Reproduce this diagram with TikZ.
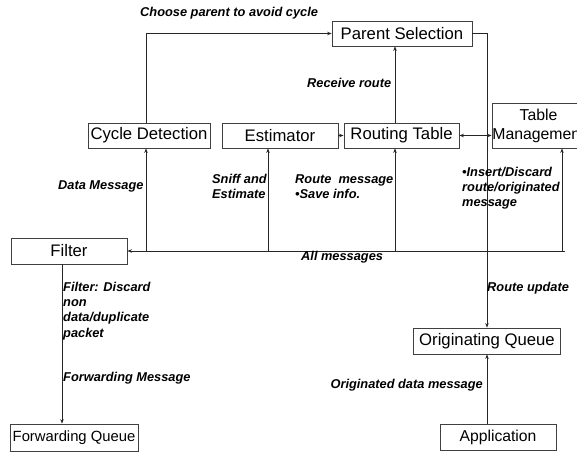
\documentclass[tikz,border=0pt]{standalone}
\usepackage{fontspec}
\setmainfont{Liberation Sans}
\usetikzlibrary{arrows.meta}

\newcommand{\boxfont}{\fontsize{16.7}{19}\selectfont}
\newcommand{\lblfont}{\fontsize{12.8}{15.2}\selectfont\bfseries\itshape}

\begin{document}
\begin{tikzpicture}[>={Stealth[length=4.5pt,width=3.5pt]},x=1pt,y=-1pt,
  blk/.style={draw=black!75,line width=0.8pt,minimum height=25pt,inner sep=0pt,font=\boxfont},
  lbl/.style={font=\lblfont,inner sep=0pt,align=left,anchor=west},
  conn/.style={draw=black!85,line width=0.7pt}]
\useasboundingbox (0,0) rectangle (577,453);
% boxes
\node[blk,minimum width=140pt] (psel) at (402,33.5) {Parent Selection};
\node[blk,minimum width=122pt] (cycdet) at (149,135.5) {Cycle Detection};
\node[blk,minimum width=116pt] (est) at (280,135.5) {Estimator};
\node[blk,minimum width=115pt] (rtab) at (401.5,135.5) {Routing Table};
\node[blk,minimum width=93pt,minimum height=45pt,align=center,font=\fontsize{15.8}{19}\selectfont] (tmgmt) at (538.5,125.5) {Table\\Management};
\node[blk,minimum width=116pt,minimum height=26pt] (filter) at (69,251) {Filter};
\node[blk,minimum width=128pt,minimum height=27pt,font=\fontsize{14.8}{17}\selectfont] (fwdq) at (74,437.5) {Forwarding Queue};
\node[blk,minimum width=147pt,minimum height=26pt] (origq) at (487,341) {Originating Queue};
\node[blk,minimum width=116pt,minimum height=26pt,font=\fontsize{15.7}{18}\selectfont] (app) at (498,437) {Application};
% bus of all messages
\coordinate (busend) at (565,251);
\coordinate (bcyc) at (146,251);
\coordinate (best) at (268,251);
\coordinate (brt) at (395,251);
\coordinate (btm) at (562,251);
% connectors
\draw[conn,->] (cycdet.north -| bcyc) |- (psel.west);
\draw[conn,->] (psel.east) -| (origq.north);
\draw[conn,->] (est.east) -- (rtab.west);
\draw[conn,->] (rtab.north -| brt) -- (psel.south -| brt);
\draw[conn,<->] (rtab.east) -- (rtab.east -| tmgmt.west);
\draw[conn,->] (busend) -- (filter.east);
\draw[conn,->] (bcyc) -- (bcyc |- cycdet.south);
\draw[conn,->] (best) -- (best |- est.south);
\draw[conn,->] (brt) -- (brt |- rtab.south);
\draw[conn,->] (btm) -- (btm |- tmgmt.south);
\draw[conn,->] ([xshift=-7pt]filter.south) -- ([xshift=-7pt]filter.south |- fwdq.north);
\draw[conn,->] (origq.south |- app.north) -- (origq.south);
% labels
\node[lbl] (lchoose) at (140,13) {Choose parent to avoid cycle};
\node[lbl] (lrecv) at (307,83) {Receive route};
\node[lbl] (ldata) at (58,186) {Data Message};
\node[lbl] (lsniff) at (212,186.5) {Sniff and\\Estimate};
\node[lbl] (lroute) at (295,186.5) {Route~~message\\•Save info.};
\node[lbl] (linsert) at (462,188) {•Insert/Discard\\route/originated\\message};
\node[lbl] (lall) at (301,257) {All messages};
\node[lbl] (lfilter) at (63,311) {Filter: Discard\\non\\data/duplicate\\packet};
\node[lbl] (lfwd) at (63,378) {Forwarding Message};
\node[lbl] (lupd) at (487,288) {Route update};
\node[lbl,anchor=east] (lorig) at (483,385) {Originated data message};
\end{tikzpicture}
\end{document}
